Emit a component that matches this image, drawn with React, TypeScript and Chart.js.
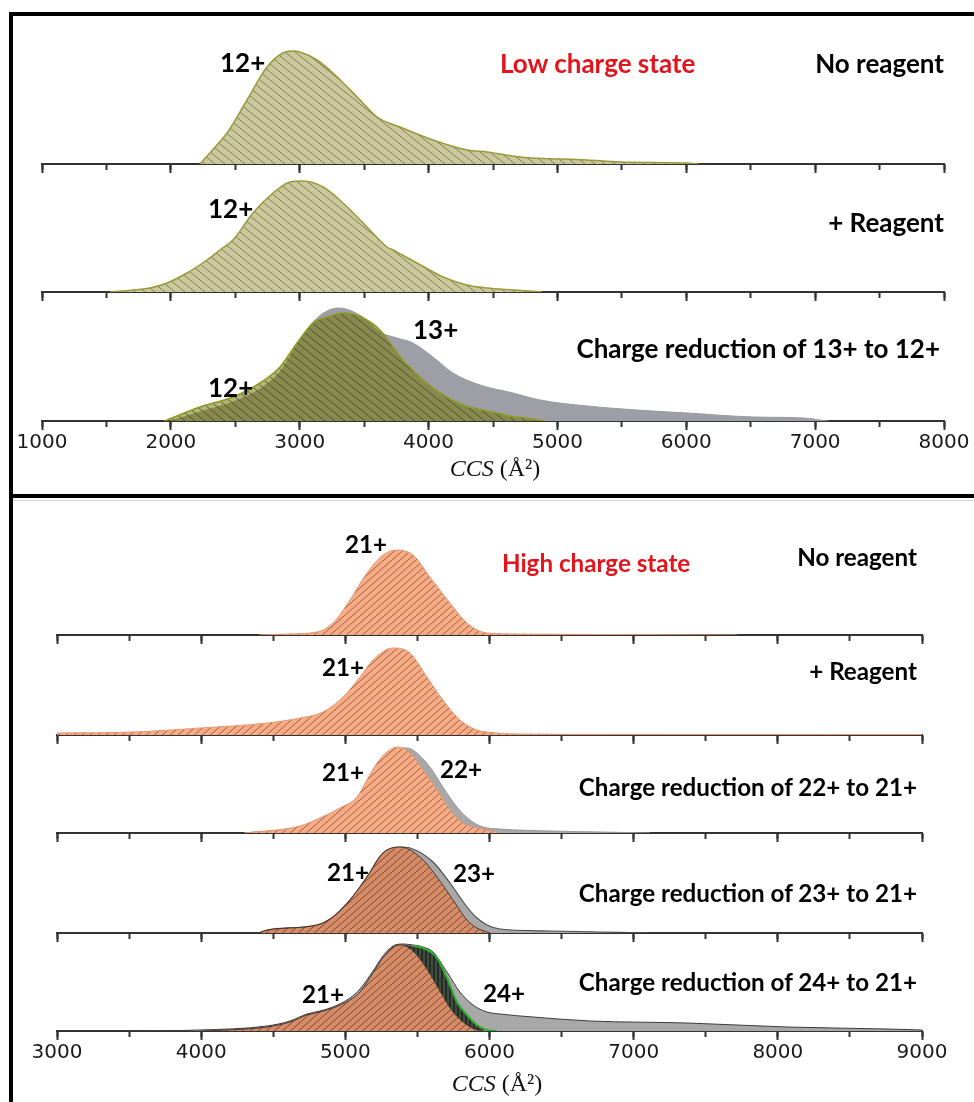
import { useEffect, useRef } from 'react';
import { Chart, registerables } from 'chart.js';

Chart.register(...registerables);

const W = 974;
const H = 1102;
const PAD_TOP = 4;
const AXIS_H = 40;
const AXIS_COLOR = '#333333';

// ---------- Low charge state (CCS in Å², intensity in arbitrary units) ----------
const lowNoReagentCCS = [2226, 2330, 2436, 2591, 2746, 2870, 2950, 3002, 3134, 3258, 3468, 3600, 3778, 4034, 4298, 4453, 4709, 5229, 5486, 6005, 6100];
const lowNoReagent12 = [0, 15, 31, 64, 97, 111, 113, 112, 104, 91, 64, 47, 37, 24, 14, 12, 7, 4, 2, 1, 0];

const lowReagentCCS = [1528, 1838, 1970, 2125, 2280, 2381, 2482, 2637, 2793, 2925, 3025, 3181, 3336, 3522, 3677, 3724, 3910, 4112, 4298, 4453, 4663, 4880];
const lowReagent12 = [0, 4, 9, 19, 32, 42, 52, 79, 99, 110, 111, 105, 89, 65, 45, 42, 29, 15, 7, 4, 2, 0];

const lowReduced12CCS = [1950, 2226, 2482, 2692, 2847, 2979, 3103, 3212, 3336, 3491, 3623, 3724, 3801, 3933, 4089, 4267, 4531, 4663, 4741, 4900];
const lowReduced12 = [0, 14, 24, 38, 54, 78, 98, 104, 108, 103, 91, 74, 61, 44, 28, 16, 8, 4, 3, 0];

const lowReduced13CCS = [2000, 2226, 2482, 2692, 2847, 2979, 3103, 3212, 3300, 3491, 3623, 3755, 3879, 4034, 4189, 4399, 4655, 4865, 5229, 5618, 6005, 6525, 6913, 7037, 7100];
const lowReduced13 = [0, 9, 19, 32, 49, 76, 99, 110, 113, 104, 89, 83, 78, 64, 48, 36, 28, 21, 15, 11, 8, 4, 3, 1, 0];

// ---------- High charge state ----------
const highNoReagentCCS = [4400, 4595, 4803, 4914, 5032, 5150, 5261, 5358, 5469, 5587, 5726, 5844, 5983, 6211, 6766, 7717];
const highNoReagent21 = [0, 1, 3, 12, 35, 62, 80, 85, 80, 58, 32, 12, 2, 1, 0.5, 0];

const highReagentCCS = [3000, 3527, 3992, 4457, 4686, 4845, 4984, 5102, 5192, 5331, 5449, 5566, 5677, 5795, 5913, 5983, 6211, 7000, 9000];
const highReagent21 = [2, 3, 7, 12, 17, 23, 38, 58, 75, 87, 82, 58, 35, 15, 5, 3, 1, 0.6, 0.5];

const red22CCS21 = [4300, 4686, 4824, 4963, 5081, 5150, 5220, 5289, 5365, 5449, 5539, 5636, 5726, 5816, 5913, 5983, 6073];
const red22Int21 = [0, 7, 15, 25, 36, 53, 70, 81, 86, 80, 63, 43, 23, 10, 5, 3, 0];
const red22CCS22 = [4300, 4686, 4824, 4963, 5081, 5150, 5220, 5289, 5365, 5428, 5469, 5587, 5677, 5774, 5865, 5955, 6073, 6420, 6766, 7113];
const red22Int22 = [0, 6, 14, 24, 35, 52, 69, 80, 85, 85, 83, 66, 46, 26, 13, 6, 4, 2, 1, 0];

const red23CCS21 = [4400, 4457, 4803, 4914, 5032, 5150, 5261, 5379, 5518, 5636, 5747, 5844, 5913, 6003];
const red23Int21 = [0, 3, 8, 16, 33, 56, 80, 86, 76, 56, 33, 13, 5, 0];
const red23CCS23 = [4400, 4457, 4803, 4914, 5032, 5150, 5261, 5379, 5449, 5608, 5726, 5844, 5913, 5983, 6073, 6420, 6766, 7113];
const red23Int23 = [0, 3, 8, 16, 33, 56, 80, 86, 85, 71, 50, 26, 15, 8, 4, 2, 1, 0];

const red24CCS21 = [4000, 4179, 4457, 4616, 4734, 4824, 4914, 5032, 5102, 5192, 5261, 5331, 5379, 5469, 5566, 5656, 5747, 5844, 5913, 5960];
const red24Int21 = [0, 1, 4, 9, 16, 19, 23, 31, 39, 58, 73, 84, 86, 80, 62, 40, 19, 6, 1, 0];
const red24CCSMid = [4000, 4179, 4457, 4616, 4734, 4824, 4914, 5032, 5102, 5192, 5261, 5331, 5379, 5469, 5539, 5636, 5705, 5774, 5844, 5913, 5983, 6050];
const red24IntMid = [0, 1, 4, 9, 16, 19, 23, 31, 39, 58, 73, 84, 86, 85, 83, 73, 53, 29, 16, 6, 1, 0];
const red24CCS24 = [3500, 3992, 4457, 4616, 4734, 4824, 4914, 5032, 5102, 5192, 5261, 5331, 5400, 5469, 5539, 5608, 5705, 5795, 5886, 5983, 6073, 6302, 6700, 7370, 8064, 8757, 9000];
const red24Int24 = [0, 1, 5, 10, 17, 20, 24, 33, 42, 60, 75, 85, 87, 86, 84, 79, 59, 39, 26, 19, 17, 14, 10, 8, 4, 2, 1];

// Axis ranges
const lowRange = { min: 1000, max: 8000, yMax: 120, left: 42, right: 944 };
const highRange = { min: 3000, max: 9000, yMax: 92, left: 57, right: 922 };

type PaintName = 'oliveLight' | 'oliveGlaze' | 'grayLow' | 'orangeSolid' | 'orangeGlaze' | 'grayHigh' | 'greenHatch';

interface Trace {
  label: string;
  ccs: number[];
  intensity: number[];
  paint: PaintName;
  edge: string;
  edgeWidth: number;
  fillAbove?: string;
  edgeFrom?: number; // outline only drawn from this CCS onwards
}

interface Row {
  baseline: number;
  traces: Trace[];
  showLabels: boolean;
}

const lowRows: Row[] = [
  {
    baseline: 164,
    showLabels: false,
    traces: [{ label: '12+', ccs: lowNoReagentCCS, intensity: lowNoReagent12, paint: 'oliveLight', edge: '#9a9a3a', edgeWidth: 1.5 }],
  },
  {
    baseline: 292,
    showLabels: false,
    traces: [{ label: '12+', ccs: lowReagentCCS, intensity: lowReagent12, paint: 'oliveLight', edge: '#9a9a3a', edgeWidth: 1.5 }],
  },
  {
    baseline: 421,
    showLabels: true,
    traces: [
      { label: '12+', ccs: lowReduced12CCS, intensity: lowReduced12, paint: 'oliveGlaze', edge: '#8e9b22', edgeWidth: 1.5 },
      { label: '13+', ccs: lowReduced13CCS, intensity: lowReduced13, paint: 'grayLow', edge: '#9a9aa2', edgeWidth: 1 },
    ],
  },
];

const highRows: Row[] = [
  {
    baseline: 635,
    showLabels: false,
    traces: [{ label: '21+', ccs: highNoReagentCCS, intensity: highNoReagent21, paint: 'orangeSolid', edge: '#e89a72', edgeWidth: 1 }],
  },
  {
    baseline: 735,
    showLabels: false,
    traces: [{ label: '21+', ccs: highReagentCCS, intensity: highReagent21, paint: 'orangeSolid', edge: '#e89a72', edgeWidth: 1 }],
  },
  {
    baseline: 833,
    showLabels: false,
    traces: [
      { label: '21+', ccs: red22CCS21, intensity: red22Int21, paint: 'orangeSolid', edge: '#e39470', edgeWidth: 1 },
      { label: '22+', ccs: red22CCS22, intensity: red22Int22, paint: 'grayHigh', edge: '#9a9a9a', edgeWidth: 1 },
    ],
  },
  {
    baseline: 933,
    showLabels: false,
    traces: [
      { label: '21+', ccs: red23CCS21, intensity: red23Int21, paint: 'orangeGlaze', edge: 'rgba(60,45,40,0.85)', edgeWidth: 1 },
      { label: '23+', ccs: red23CCS23, intensity: red23Int23, paint: 'grayHigh', edge: '#4d4d4d', edgeWidth: 1.2 },
    ],
  },
  {
    baseline: 1031,
    showLabels: true,
    traces: [
      { label: '21+', ccs: red24CCS21, intensity: red24Int21, paint: 'orangeGlaze', edge: 'rgba(60,45,40,0.85)', edgeWidth: 1 },
      { label: '22+/23+', ccs: red24CCSMid, intensity: red24IntMid, paint: 'greenHatch', edge: '#2fb02f', edgeWidth: 2, fillAbove: '-1', edgeFrom: 5420 },
      { label: '24+', ccs: red24CCS24, intensity: red24Int24, paint: 'grayHigh', edge: '#3c3c3c', edgeWidth: 1 },
    ],
  },
];

interface Note {
  text: string;
  x: number;
  y: number;
  align: 'left' | 'right';
  size: number;
  color?: string;
}

const TOP_FONT = 26;
const LOW_FONT = 24.2;

const notes: Note[] = [
  { text: '12+', x: 220, y: 62, align: 'left', size: TOP_FONT },
  { text: 'Low charge state', x: 500, y: 63, align: 'left', size: TOP_FONT, color: '#e3141c' },
  { text: 'No reagent', x: 944, y: 63, align: 'right', size: TOP_FONT },
  { text: '12+', x: 208, y: 208, align: 'left', size: TOP_FONT },
  { text: '+ Reagent', x: 944, y: 222, align: 'right', size: TOP_FONT },
  { text: '13+', x: 413, y: 329, align: 'left', size: TOP_FONT },
  { text: 'Charge reduction of 13+ to 12+', x: 940, y: 348, align: 'right', size: TOP_FONT },
  { text: '12+', x: 208, y: 387, align: 'left', size: TOP_FONT },

  { text: '21+', x: 345, y: 544, align: 'left', size: LOW_FONT },
  { text: 'High charge state', x: 502, y: 563, align: 'left', size: LOW_FONT, color: '#e3141c' },
  { text: 'No reagent', x: 917, y: 557, align: 'right', size: LOW_FONT },
  { text: '21+', x: 322, y: 667, align: 'left', size: LOW_FONT },
  { text: '+ Reagent', x: 917, y: 671, align: 'right', size: LOW_FONT },
  { text: '21+', x: 322, y: 772, align: 'left', size: LOW_FONT },
  { text: '22+', x: 440, y: 769, align: 'left', size: LOW_FONT },
  { text: 'Charge reduction of 22+ to 21+', x: 917, y: 787, align: 'right', size: LOW_FONT },
  { text: '21+', x: 327, y: 872, align: 'left', size: LOW_FONT },
  { text: '23+', x: 453, y: 873, align: 'left', size: LOW_FONT },
  { text: 'Charge reduction of 23+ to 21+', x: 917, y: 893, align: 'right', size: LOW_FONT },
  { text: '21+', x: 302, y: 994, align: 'left', size: LOW_FONT },
  { text: '24+', x: 483, y: 993, align: 'left', size: LOW_FONT },
  { text: 'Charge reduction of 24+ to 21+', x: 917, y: 982, align: 'right', size: LOW_FONT },
];

// ---------- hatched fills ----------
function hatch(bg: string, line: string, w: number, h: number, dir: 'down' | 'up' | 'vertical', lw = 1): CanvasPattern {
  const c = document.createElement('canvas');
  c.width = w;
  c.height = h;
  const g = c.getContext('2d')!;
  g.fillStyle = bg;
  g.fillRect(0, 0, w, h);
  g.strokeStyle = line;
  g.lineWidth = lw;
  g.beginPath();
  if (dir === 'vertical') {
    g.moveTo(w / 2, 0);
    g.lineTo(w / 2, h);
  } else {
    for (const o of [-w, 0, w]) {
      if (dir === 'down') {
        g.moveTo(o, 0);
        g.lineTo(o + w, h);
      } else {
        g.moveTo(o, h);
        g.lineTo(o + w, 0);
      }
    }
  }
  g.stroke();
  return g.createPattern(c, 'repeat')!;
}

let paintCache: Record<PaintName, CanvasPattern | string> | null = null;
function paints() {
  if (!paintCache) {
    paintCache = {
      oliveLight: hatch('rgb(203,200,158)', 'rgba(105,104,58,0.75)', 10, 8, 'down'),
      oliveGlaze: hatch('rgba(118,120,8,0.55)', 'rgba(55,58,20,0.7)', 10, 8, 'down'),
      grayLow: 'rgb(158,158,166)',
      orangeSolid: hatch('rgb(246,172,134)', 'rgba(150,75,42,0.8)', 8, 7, 'up'),
      orangeGlaze: hatch('rgba(236,122,66,0.64)', 'rgba(105,48,22,0.75)', 8, 7, 'up'),
      grayHigh: 'rgb(168,168,168)',
      greenHatch: hatch('rgb(66,78,66)', 'rgb(18,22,18)', 4, 4, 'vertical', 1.2),
    };
  }
  return paintCache;
}

type Range = typeof lowRange;

function RidgeRow({ row, range }: { row: Row; range: Range }) {
  const ref = useRef<HTMLCanvasElement>(null);
  const canvasH = PAD_TOP + range.yMax + AXIS_H;

  useEffect(() => {
    const canvas = ref.current;
    if (!canvas) return;
    const p = paints();
    const chart = new Chart(canvas, {
      type: 'line',
      data: {
        datasets: row.traces.map((t, i) => ({
          label: t.label,
          data: t.ccs.map((x, k) => ({ x, y: t.intensity[k] })),
          order: i,
          fill: t.fillAbove
            ? { target: t.fillAbove, above: p[t.paint], below: 'rgba(0,0,0,0)' }
            : 'origin',
          backgroundColor: p[t.paint] as any,
          borderColor: t.edge,
          borderWidth: t.edgeWidth,
          segment:
            t.edgeFrom !== undefined
              ? { borderColor: (ctx: any) => (ctx.p0.parsed.x >= (t.edgeFrom as number) ? t.edge : 'rgba(0,0,0,0)') }
              : undefined,
          pointRadius: 0,
          pointHoverRadius: 0,
          tension: 0.4,
          cubicInterpolationMode: 'monotone',
        })) as any,
      },
      options: {
        responsive: false,
        animation: false,
        events: [],
        layout: { padding: { left: range.left, right: W - range.right, top: PAD_TOP, bottom: 0 } },
        plugins: { legend: { display: false }, tooltip: { enabled: false } },
        scales: {
          x: {
            type: 'linear',
            position: 'bottom',
            min: range.min,
            max: range.max,
            afterFit: (s: any) => {
              s.height = AXIS_H;
            },
            border: { display: true, color: AXIS_COLOR, width: 2 },
            grid: { display: true, drawOnChartArea: false, drawTicks: true, tickLength: 9, tickWidth: 2, tickColor: AXIS_COLOR },
            ticks: {
              display: row.showLabels,
              stepSize: 1000,
              autoSkip: false,
              maxRotation: 0,
              padding: 1,
              color: '#1a1a1a',
              font: { family: 'DejaVu Sans', size: 20 },
              callback: (v: number | string) => String(v),
            },
          },
          xMinor: {
            type: 'linear',
            axis: 'x',
            position: { y: 0 },
            min: range.min,
            max: range.max,
            border: { display: false },
            grid: { display: true, drawOnChartArea: false, drawTicks: true, tickLength: 6, tickWidth: 2, tickColor: AXIS_COLOR },
            ticks: { display: false, stepSize: 500, autoSkip: false },
          },
          y: { type: 'linear', display: false, min: 0, max: range.yMax },
        },
      } as any,
    });
    return () => chart.destroy();
  }, [row, range]);

  return (
    <canvas
      ref={ref}
      width={W}
      height={canvasH}
      style={{ position: 'absolute', left: 0, top: row.baseline - range.yMax - PAD_TOP, width: W, height: canvasH }}
    />
  );
}

function AxisTitle({ x, y }: { x: number; y: number }) {
  return (
    <div
      style={{
        position: 'absolute',
        left: x,
        top: y,
        transform: 'translate(-50%, -50%)',
        fontFamily: '"Liberation Serif", serif',
        fontSize: 24,
        lineHeight: 1,
        color: '#111',
        whiteSpace: 'nowrap',
      }}
    >
      <span style={{ fontStyle: 'italic' }}>CCS</span> (Å²)
    </div>
  );
}

export default function App() {
  useEffect(() => {
    document.body.style.margin = '0';
    document.body.style.background = '#ffffff';
  }, []);

  return (
    <div style={{ position: 'relative', width: W, height: H, overflow: 'hidden', background: '#fff' }}>
      {lowRows.map((r, i) => (
        <RidgeRow key={`low-${i}`} row={r} range={lowRange} />
      ))}
      {highRows.map((r, i) => (
        <RidgeRow key={`high-${i}`} row={r} range={highRange} />
      ))}

      {/* panel frames */}
      <div style={{ position: 'absolute', left: 9, top: 12, width: W - 9, height: 4, background: '#000' }} />
      <div style={{ position: 'absolute', left: 9, top: 494, width: W - 9, height: 4, background: '#000' }} />
      <div style={{ position: 'absolute', left: 9, top: 500, width: W - 9, height: 1, background: '#d4d4d4' }} />
      <div style={{ position: 'absolute', left: 9, top: 12, width: 4, height: H - 12, background: '#000' }} />

      {notes.map((n, i) => (
        <div
          key={i}
          style={{
            position: 'absolute',
            top: n.y,
            ...(n.align === 'left' ? { left: n.x } : { right: W - n.x }),
            transform: 'translateY(-50%)',
            fontFamily: 'Lato, "Open Sans", sans-serif',
            fontWeight: 700,
            fontSize: n.size,
            lineHeight: 1,
            color: n.color ?? '#000',
            whiteSpace: 'nowrap',
          }}
        >
          {n.text}
        </div>
      ))}

      <AxisTitle x={495} y={468} />
      <AxisTitle x={497} y={1083} />
    </div>
  );
}
